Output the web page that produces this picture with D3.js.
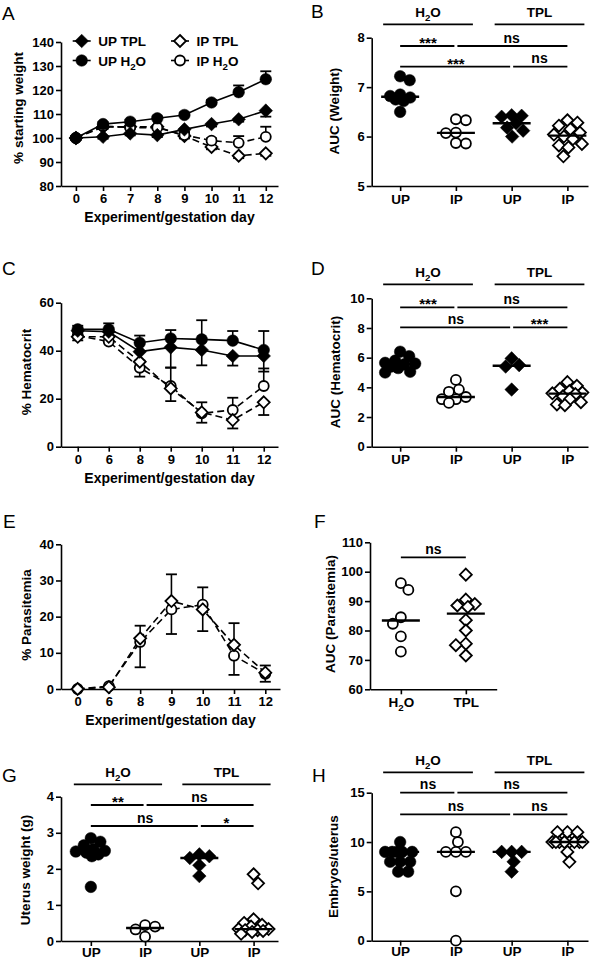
<!DOCTYPE html>
<html><head><meta charset="utf-8">
<script src="https://cdn.jsdelivr.net/npm/d3@7"></script>
<style>
body{margin:0;background:#fff}
svg{display:block}
</style>
</head><body>
<svg id="fig" width="599" height="960"></svg>
<script>
// ================= DATA =================
// Panel A: % starting weight (signed SEM: sign = drawn direction)
const daysA = ["0","6","7","8","9","10","11","12"];
const upTplA    = [100, 100.5, 101.9, 101.2, 103.6, 105.8, 107.8, 111.4];
const upTplErrA = [-0.8, -0.8, -0.8, -0.8, -1, -1, -1, -2.5];
const upH2oA    = [100, 105.8, 106.8, 108.2, 109.6, 114.8, 119.1, 124.5];
const upH2oErrA = [0.8, 0.8, 0.8, 0.8, 1, 1, 2.8, 3.3];
const ipTplA    = [100, 104.6, 104.7, 104.7, 100.8, 96.3, 92.6, 93.6];
const ipTplErrA = [-0.8, -0.8, -0.8, -0.8, -1, -1, -1, -1];
const ipH2oA    = [100, 105.0, 104.3, 104.3, 101.2, 98.9, 98.0, 100.5];
const ipH2oErrA = [0.8, 0.8, 0.8, 0.8, 1, 1, 2.8, 4.2];

// Panel C: % hematocrit
const daysC = ["0","6","8","9","10","11","12"];
const upH2oC    = [48.9, 48.9, 43.3, 45.1, 44.7, 44.2, 40.3];
const upH2oErrC = [1.5, 2.5, 3, 3.5, 8, 4, 7.9];
const upTplC    = [48.3, 47.9, 39.6, 41.4, 40.3, 37.8, 37.8];
const upTplErrC = [-1.5, -1.5, -4, -8.4, -6.4, -4, -6.5];
const ipH2oC    = [46.3, 43.8, 32.9, 25.3, 13.9, 15.3, 25.3];
const ipH2oErrC = [1.5, 2, 3, 7.6, 4.6, 5.1, 7.3];
const ipTplC    = [45.8, 45.8, 35.4, 24.3, 14.3, 11.1, 18.5];
const ipTplErrC = [-1.5, -2, -6.2, -5.3, -4.3, -3.5, -5.3];

// Panel E: % parasitemia
const daysE = ["0","6","8","9","10","11","12"];
const ipH2oE    = [0, 0.8, 13.0, 22.0, 23.3, 9.2, 4.2];
const ipH2oErrE = [0, 0, -7, -6.8, 4.8, -5.3, -2.2];
const ipTplE    = [0, 0.5, 14.0, 24.3, 22.0, 12.2, 4.5];
const ipTplErrE = [0, 0, 3.5, 7.4, -6, 6, 2];

// Scatter panels: categories
const catsUpIp = ["UP", "IP", "UP", "IP"];
const groupLabels = ["H2O", "TPL"];
const catsF = ["H2O", "TPL"];

// Panel B: AUC (Weight)
const aucWeightUpH2o = [7.22, 7.14, 6.85, 6.82, 6.79, 6.75, 6.72, 6.5];
const aucWeightIpH2o = [6.35, 6.33, 6.08, 6.07, 5.87, 5.86];
const aucWeightUpTpl = [6.43, 6.42, 6.40, 6.27, 6.18, 6.12, 6.0];
const aucWeightIpTpl = [6.33, 6.28, 6.22, 6.15, 6.08, 6.04, 6.0, 5.95, 5.85, 5.82, 5.78, 5.6];
const sigWeight = ["***", "ns", "***", "ns"];

// Panel D: AUC (Hematocrit)
const aucHctUpH2o = [6.4, 6.1, 5.8, 5.65, 5.6, 5.55, 5.4, 5.3, 5.05, 5.0];
const aucHctIpH2o = [4.5, 3.85, 3.7, 3.35, 3.2, 3.2, 2.95];
const aucHctUpTpl = [5.95, 5.5, 5.4, 3.85];
const aucHctIpTpl = [4.35, 4.1, 3.9, 3.75, 3.65, 3.6, 3.55, 3.4, 3.2, 3.0, 2.85, 2.8];
const sigHct = ["***", "ns", "ns", "***"];

// Panel F: AUC (Parasitemia)
const aucParaH2o = [96.1, 93.8, 84.5, 82.3, 78, 72.8];
const aucParaTpl = [99, 90.5, 89, 88.5, 88, 83.5, 80, 75.5, 75, 71.5];
const sigPara = ["ns"];

// Panel G: Uterus weight (g)
const uterusUpH2o = [2.85, 2.75, 2.65, 2.55, 2.5, 2.48, 2.45, 2.4, 2.35, 1.5];
const uterusIpH2o = [0.44, 0.4, 0.32, 0.12];
const uterusUpTpl = [2.4, 2.35, 2.3, 2.1, 1.8];
const uterusIpTpl = [1.85, 1.6, 0.6, 0.5, 0.45, 0.4, 0.33, 0.33, 0.3, 0.3, 0.28, 0.25, 0.2];
const sigUterus = ["**", "ns", "ns", "*"];

// Panel H: Embryos/uterus
const embUpH2o = [10, 9, 9, 9, 9, 9, 8, 8, 8, 7, 7];
const embIpH2o = [11, 10, 9, 9, 9, 5, 0];
const embUpTpl = [9, 9, 9, 8, 7];
const embIpTpl = [11, 11, 11, 10, 10, 10, 10, 10, 10, 10, 10, 9, 8];
const sigEmb = ["ns", "ns", "ns", "ns"];

// ================= DRAWING =================
const FONT = '"Liberation Sans", Arial, Helvetica, sans-serif';
const svg = d3.select("#fig");
svg.append("rect").attr("width", 599).attr("height", 960).attr("fill", "#fff");
const fmt = d3.format("~g");

function rich(sel, s, fs) {
  sel.text(null);
  const parts = s.split("H2O");
  parts.forEach((p, i) => {
    if (p) sel.append("tspan").text(p);
    if (i < parts.length - 1) {
      sel.append("tspan").text("H");
      sel.append("tspan").attr("dy", fs * 0.3).attr("font-size", fs * 0.72).text("2");
      sel.append("tspan").attr("dy", -fs * 0.3).text("O");
    }
  });
}

function txt(x, y, s, o = {}) {
  const fs = o.fs || 13;
  const t = svg.append("text").attr("x", x).attr("y", y)
    .attr("font-family", FONT).attr("font-size", fs)
    .attr("font-weight", o.weight || "bold").attr("fill", "#000")
    .attr("text-anchor", o.anchor || "start");
  if (o.rotate) t.attr("transform", `rotate(-90,${x},${y})`);
  rich(t, s, fs);
  return t;
}

function styleAxis(g, fs) {
  g.attr("font-family", FONT).attr("font-size", fs);
  g.select(".domain").attr("stroke", "#000").attr("stroke-width", 1.6);
  g.selectAll(".tick line").attr("stroke", "#000").attr("stroke-width", 1.6);
  g.selectAll(".tick text").attr("font-weight", "bold").attr("fill", "#000");
}

function marker(g, cx, cy, shape, filled) {
  let el;
  if (shape === "circle") {
    el = g.append("circle").attr("cx", cx).attr("cy", cy).attr("r", filled ? 5.8 : 5.0);
  } else {
    const h = filled ? 6.8 : 6.0;
    el = g.append("path").attr("d", `M${cx},${cy - h}L${cx + h},${cy}L${cx},${cy + h}L${cx - h},${cy}Z`);
  }
  el.attr("fill", filled ? "#000" : "#fff").attr("stroke", "#000").attr("stroke-width", filled ? 0.5 : 1.8);
}

function linePanel(o) {
  const x = d3.scalePoint().domain(o.days).range([o.x0, o.x1]).padding(0.5).align(o.align);
  const y = d3.scaleLinear().domain(o.yDomain).range([o.yb, o.yt]);
  const gx = svg.append("g").attr("transform", `translate(0,${o.yb})`)
    .call(d3.axisBottom(x).tickSize(5).tickSizeOuter(0).tickPadding(3));
  styleAxis(gx, 13);
  const gy = svg.append("g").attr("transform", `translate(${o.x0},0)`)
    .call(d3.axisLeft(y).tickValues(o.yTicks).tickFormat(fmt).tickSize(5).tickSizeOuter(0).tickPadding(2));
  styleAxis(gy, 13);
  txt((o.x0 + o.x1) / 2, o.yb + 36, "Experiment/gestation day", { fs: 14, anchor: "middle" });
  txt(o.ylx, o.yly, o.ylabel, { fs: 13.5, anchor: "middle", rotate: true });

  const g = svg.append("g");
  o.series.forEach(s => {
    g.append("path").datum(s.vals)
      .attr("d", d3.line().x((d, i) => x(o.days[i])).y(d => y(d)))
      .attr("fill", "none").attr("stroke", "#000").attr("stroke-width", 1.6)
      .attr("stroke-dasharray", s.dashed ? "7,4" : null);
  });
  o.series.forEach(s => {
    s.vals.forEach((v, i) => {
      const e = s.errs[i];
      if (!e) return;
      const xx = x(o.days[i]), y2 = y(v + e);
      g.append("line").attr("x1", xx).attr("x2", xx).attr("y1", y(v)).attr("y2", y2)
        .attr("stroke", "#000").attr("stroke-width", 1.6);
      g.append("line").attr("x1", xx - 5.5).attr("x2", xx + 5.5).attr("y1", y2).attr("y2", y2)
        .attr("stroke", "#000").attr("stroke-width", 1.8);
    });
  });
  o.series.forEach(s => s.vals.forEach((v, i) => marker(g, x(o.days[i]), y(v), s.shape, s.filled)));
  return { x, y };
}

// compact beeswarm: nearest free offset, else the least-overlapping offset within maxOff
function swarm(vals, y, diam, maxOff) {
  const pts = vals.map(v => ({ v, py: y(v) })).sort((a, b) => b.v - a.v);
  const placed = [];
  let flip = false;
  pts.forEach(p => {
    let best = 0, bestScore = -1;
    const offs = [0];
    for (let c = 0.5; c <= maxOff; c += 0.5) offs.push(c, -c);
    for (const c0 of offs) {
      const c = flip ? -c0 : c0;
      let md = diam;
      placed.forEach(q => { const d = Math.hypot(c - q.dx, p.py - q.py); if (d < md) md = d; });
      if (md > bestScore + 1e-6) { bestScore = md; best = c; }
      if (md >= diam) break;
    }
    p.dx = best;
    if (best !== 0) flip = !flip;
    placed.push(p);
  });
  return placed;
}

function scatterPanel(o) {
  const x = d3.scalePoint().domain(d3.range(o.cats.length)).range([o.x0, o.x1]).padding(o.pad).align(o.align);
  const y = d3.scaleLinear().domain(o.yDomain).range([o.yb, o.yt]);
  const gx = svg.append("g").attr("transform", `translate(0,${o.yb})`)
    .call(d3.axisBottom(x).tickSize(5).tickSizeOuter(0).tickPadding(o.xPad == null ? 3 : o.xPad).tickFormat(i => o.cats[i]));
  styleAxis(gx, 13.5);
  gx.selectAll(".tick text").each(function (i) { rich(d3.select(this), o.cats[i], 13.5); });
  const gy = svg.append("g").attr("transform", `translate(${o.x0},0)`)
    .call(d3.axisLeft(y).tickValues(o.yTicks).tickFormat(fmt).tickSize(5).tickSizeOuter(0).tickPadding(2));
  styleAxis(gy, 13);
  txt(o.ylx, o.yly, o.ylabel, { fs: 13.5, anchor: "middle", rotate: true });

  const g = svg.append("g");
  o.groups.forEach((gr, ci) => {
    const cx = x(ci);
    const pts = swarm(gr.vals, y, 10, o.maxOff || 15);
    pts.forEach(p => marker(g, cx + p.dx, p.py, gr.shape, gr.filled));
    const m = d3.median(gr.vals);
    g.append("line").attr("x1", cx - 19).attr("x2", cx + 19).attr("y1", y(m)).attr("y2", y(m))
      .attr("stroke", "#000").attr("stroke-width", 2.4);
  });

  if (o.headers) {
    o.headers.forEach(h => {
      svg.append("line").attr("x1", x(h.a) - 17).attr("x2", x(h.b) + 17)
        .attr("y1", o.headerY).attr("y2", o.headerY).attr("stroke", "#000").attr("stroke-width", 1.8);
      txt((x(h.a) + x(h.b)) / 2, o.headerY - 7, h.label, { fs: 13.5, anchor: "middle" });
    });
  }
  o.rows.forEach(r => {
    r.comps.forEach(([a, b, lab], k) => {
      const sharedStart = r.comps.some(([a2, b2], k2) => k2 !== k && b2 === a);
      const sharedEnd = r.comps.some(([a2, b2], k2) => k2 !== k && a2 === b);
      const xa = x(a) + (sharedStart ? 1.5 : 0), xb = x(b) - (sharedEnd ? 1.5 : 0);
      svg.append("line").attr("x1", xa).attr("x2", xb).attr("y1", r.y).attr("y2", r.y)
        .attr("stroke", "#000").attr("stroke-width", 1.8);
      const star = lab.indexOf("*") >= 0;
      txt((x(a) + x(b)) / 2, star ? r.y + 2 : r.y - 3.5, lab, { fs: star ? 15 : 14, anchor: "middle" });
    });
  });
  return { x, y };
}

// ---------- Panel letters ----------
const letters = [["A", 2, 20], ["B", 311, 18], ["C", 2, 275], ["D", 311, 275],
                 ["E", 3, 528], ["F", 314, 528], ["G", 2, 782], ["H", 312, 782]];
letters.forEach(([l, x, y]) => txt(x, y, l, { fs: 19, weight: "normal" }));

// ---------- Panel A ----------
const seriesA = [
  { label: "UP TPL", vals: upTplA, errs: upTplErrA, shape: "diamond", filled: true, dashed: false },
  { label: "UP H2O", vals: upH2oA, errs: upH2oErrA, shape: "circle", filled: true, dashed: false },
  { label: "IP TPL", vals: ipTplA, errs: ipTplErrA, shape: "diamond", filled: false, dashed: true },
  { label: "IP H2O", vals: ipH2oA, errs: ipH2oErrA, shape: "circle", filled: false, dashed: true }
];
linePanel({
  days: daysA, x0: 61, x1: 278, align: 0.55, yb: 186, yt: 42, yDomain: [80, 140],
  yTicks: [80, 90, 100, 110, 120, 130, 140], ylabel: "% starting weight", ylx: 22.5, yly: 108,
  series: [seriesA[2], seriesA[3], seriesA[0], seriesA[1]]
});
// legend
const legPos = [[81.7, 41], [81.7, 60.5], [180, 41], [180, 60.5]];
seriesA.forEach((s, i) => {
  const [lx, ly] = legPos[i];
  svg.append("line").attr("x1", lx - 9).attr("x2", lx + 9).attr("y1", ly).attr("y2", ly)
    .attr("stroke", "#000").attr("stroke-width", 1.6);
  marker(svg, lx, ly, s.shape, s.filled);
  txt(lx + 16.5, ly + 5, s.label, { fs: 13.5 });
});

// ---------- Panel C ----------
linePanel({
  days: daysC, x0: 61, x1: 278, align: 0.54, yb: 446.7, yt: 302.7, yDomain: [0, 60],
  yTicks: [0, 20, 40, 60], ylabel: "% Hematocrit", ylx: 31, yly: 372,
  series: [
    { vals: ipH2oC, errs: ipH2oErrC, shape: "circle", filled: false, dashed: true },
    { vals: ipTplC, errs: ipTplErrC, shape: "diamond", filled: false, dashed: true },
    { vals: upTplC, errs: upTplErrC, shape: "diamond", filled: true, dashed: false },
    { vals: upH2oC, errs: upH2oErrC, shape: "circle", filled: true, dashed: false }
  ]
});

// ---------- Panel E ----------
linePanel({
  days: daysE, x0: 61, x1: 280, align: 0.53, yb: 689, yt: 544.3, yDomain: [0, 40],
  yTicks: [0, 10, 20, 30, 40], ylabel: "% Parasitemia", ylx: 31, yly: 615,
  series: [
    { vals: ipH2oE, errs: ipH2oErrE, shape: "circle", filled: false, dashed: true },
    { vals: ipTplE, errs: ipTplErrE, shape: "diamond", filled: false, dashed: true }
  ]
});

// ---------- Scatter panels ----------
const headers4 = [{ label: groupLabels[0], a: 0, b: 1 }, { label: groupLabels[1], a: 2, b: 3 }];
const groups4 = (a, b, c, d) => [
  { vals: a, shape: "circle", filled: true }, { vals: b, shape: "circle", filled: false },
  { vals: c, shape: "diamond", filled: true }, { vals: d, shape: "diamond", filled: false }];

scatterPanel({
  cats: catsUpIp, x0: 371.7, x1: 588, pad: 0.44, align: 0.58,
  yb: 186, yt: 37.7, yDomain: [5, 8], yTicks: [5, 6, 7, 8],
  ylabel: "AUC (Weight)", ylx: 339, yly: 111,
  groups: groups4(aucWeightUpH2o, aucWeightIpH2o, aucWeightUpTpl, aucWeightIpTpl),
  headers: headers4, headerY: 24.3,
  rows: [{ y: 46, comps: [[0, 1, sigWeight[0]], [1, 3, sigWeight[1]]] },
         { y: 66.7, comps: [[0, 2, sigWeight[2]], [2, 3, sigWeight[3]]] }]
});

scatterPanel({
  cats: catsUpIp, x0: 371.7, x1: 588, pad: 0.44, align: 0.58,
  yb: 446.7, yt: 298.3, yDomain: [0, 10], yTicks: [0, 2, 4, 6, 8, 10],
  ylabel: "AUC (Hematocrit)", ylx: 339.5, yly: 372,
  groups: groups4(aucHctUpH2o, aucHctIpH2o, aucHctUpTpl, aucHctIpTpl),
  headers: headers4, headerY: 284.3,
  rows: [{ y: 307.3, comps: [[0, 1, sigHct[0]], [1, 3, sigHct[1]]] },
         { y: 327.3, comps: [[0, 2, sigHct[2]], [2, 3, sigHct[3]]] }]
});

scatterPanel({
  cats: catsF, x0: 370, x1: 496.7, pad: 0.475, align: 0.5, maxOff: 12,
  yb: 689.3, yt: 542.3, yDomain: [60, 110], yTicks: [60, 70, 80, 90, 100, 110],
  ylabel: "AUC (Parasitemia)", ylx: 334.5, yly: 614,
  groups: [{ vals: aucParaH2o, shape: "circle", filled: false }, { vals: aucParaTpl, shape: "diamond", filled: false }],
  rows: [{ y: 557.3, comps: [[0, 1, sigPara[0]]] }]
});

scatterPanel({
  cats: catsUpIp, x0: 61, x1: 278, pad: 0.5, align: 0.55, xPad: 1,
  yb: 941, yt: 796.7, yDomain: [0, 4], yTicks: [0, 1, 2, 3, 4],
  ylabel: "Uterus weight (g)", ylx: 29.5, yly: 870,
  groups: groups4(uterusUpH2o, uterusIpH2o, uterusUpTpl, uterusIpTpl),
  headers: headers4, headerY: 784.3,
  rows: [{ y: 805, comps: [[0, 1, sigUterus[0]], [1, 3, sigUterus[1]]] },
         { y: 826, comps: [[0, 2, sigUterus[2]], [2, 3, sigUterus[3]]] }]
});

scatterPanel({
  cats: catsUpIp, x0: 371.7, x1: 588, pad: 0.44, align: 0.58, xPad: 1,
  yb: 940.7, yt: 792.7, yDomain: [0, 15], yTicks: [0, 5, 10, 15],
  ylabel: "Embryos/uterus", ylx: 338, yly: 866.7,
  groups: groups4(embUpH2o, embIpH2o, embUpTpl, embIpTpl),
  headers: headers4, headerY: 772.3,
  rows: [{ y: 792.7, comps: [[0, 1, sigEmb[0]], [1, 3, sigEmb[1]]] },
         { y: 814.3, comps: [[0, 2, sigEmb[2]], [2, 3, sigEmb[3]]] }]
});
</script>
</body></html>
